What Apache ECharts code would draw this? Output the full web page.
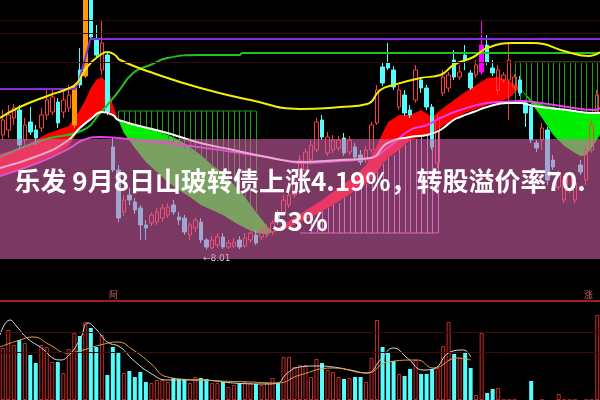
<!DOCTYPE html>
<html><head><meta charset="utf-8">
<script src="https://cdn.jsdelivr.net/npm/echarts@6/dist/echarts.min.js"></script>
<style>html,body{margin:0;padding:0;background:#000;}#c{width:600px;height:400px;}</style>
</head><body><div id="c"></div>
<script>
// [open, close, low, high]
const candles = [
[10.30,10.60,10.20,10.80],[10.40,10.70,10.24,10.90],[10.64,10.84,10.50,10.92],[10.80,10.10,10.00,10.90],
[10.20,10.50,10.10,10.64],[10.56,10.36,10.30,10.86],[10.40,10.24,10.10,10.50],[10.44,10.70,10.36,10.84],
[10.70,11.00,10.60,11.24],[10.76,11.06,10.70,11.20],[10.96,10.54,10.44,11.04],[10.76,11.00,10.64,11.16],
[10.84,11.10,10.76,11.30],[10.50,11.26,10.44,11.30],[11.60,11.30,11.24,12.04],[11.48,13.20,11.44,13.40],
[13.10,12.26,12.20,13.30],[12.20,11.90,11.84,12.50],[11.60,12.14,11.50,12.60],[11.90,10.76,10.70,11.96],
[10.06,9.60,9.56,10.26],[9.60,8.64,8.56,9.70],[8.76,9.00,8.68,9.10],[9.10,9.00,8.90,9.24],
[8.96,8.80,8.72,9.04],[8.84,8.50,8.20,8.90],[8.50,8.44,8.20,8.60],[8.54,8.70,8.48,8.76],
[8.56,8.76,8.50,8.84],[8.64,8.84,8.56,8.92],[8.70,8.86,8.64,8.94],[8.90,8.76,8.70,9.00],
[8.66,8.60,8.50,8.76],[8.64,8.36,8.30,8.70],[8.30,8.50,8.20,8.56],[8.44,8.60,8.36,8.66],
[8.56,8.20,8.14,8.64],[8.20,8.06,8.01,8.24],[8.04,8.20,8.02,8.28],[8.10,8.26,8.04,8.34],
[8.26,8.06,8.02,8.34],[8.06,8.14,8.02,8.20],[8.08,8.16,8.04,8.24],[8.20,8.06,8.02,8.28],
[8.08,8.24,8.04,8.34],[8.20,8.34,8.14,8.44],[8.30,8.14,8.10,8.40],[8.26,8.40,8.20,8.48],
[8.30,8.44,8.24,8.52],[8.36,8.54,8.30,8.60],[8.70,8.56,8.50,8.80],[8.74,9.00,8.68,9.10],
[8.90,9.10,8.84,9.20],[9.10,9.40,9.04,9.50],[9.50,9.80,9.44,9.90],[9.60,9.96,9.56,10.04],
[9.80,10.10,9.70,10.20],[10.00,10.56,9.96,10.64],[10.60,10.26,10.20,10.70],[9.94,10.26,9.88,10.36],
[10.00,10.20,9.94,10.30],[10.04,10.20,9.98,10.28],[10.24,9.94,9.88,10.34],[9.96,10.20,9.90,10.28],
[10.06,9.86,9.80,10.14],[9.90,9.76,9.70,10.00],[9.80,10.00,9.74,10.08],[10.00,10.50,9.94,10.56],
[10.54,11.20,10.50,11.30],[11.66,11.34,11.28,11.76],[11.74,11.64,11.60,12.14],[11.60,11.26,11.20,11.68],
[10.86,11.20,10.80,11.30],[11.10,10.74,10.68,11.20],[10.80,10.70,10.64,10.90],[11.00,11.60,10.94,11.70],
[11.40,11.24,11.14,11.46],[11.24,10.86,10.80,11.30],[10.86,10.06,10.00,10.92],[9.74,10.60,9.64,10.70],
[11.14,11.46,11.08,11.60],[11.24,11.50,11.16,11.56],[11.80,11.46,11.40,12.00],[11.46,11.56,11.40,11.70],
[11.90,11.80,11.60,12.10],[11.54,11.24,11.20,11.60],[11.50,11.70,11.44,11.80],[11.56,12.10,11.50,12.60],
[12.10,11.76,11.70,12.30],[11.64,11.54,11.48,11.80],[11.20,11.60,11.10,11.70],[11.40,11.50,11.34,11.56],
[11.40,11.80,10.60,12.14],[11.26,11.46,11.20,11.52],[11.40,11.14,11.08,11.48],[10.94,10.74,10.46,11.00],
[10.86,10.20,10.14,10.92],[10.14,10.04,9.96,10.20],[10.20,10.44,10.00,10.54],[10.40,9.40,9.30,10.46],
[9.80,9.66,9.60,9.90],[9.26,9.54,9.20,9.60],[9.00,9.40,8.94,9.48],[9.20,9.50,9.14,9.56],
[9.00,9.34,8.94,9.40],[9.70,9.56,9.50,9.80],[9.40,10.00,9.30,10.10],[10.00,10.50,9.94,10.60],
[10.76,11.10,10.70,11.20]
];
const volumes = [52,70,55,60,57,45,37,55,53,38,38,27,51,67,64,78,72,53,65,25,
53,48,27,29,23,28,18,17,20,20,18,22,21,21,17,23,22,21,17,17,
18,13,15,17,18,17,16,15,17,22,17,43,43,33,35,35,23,41,37,30,
28,23,21,22,23,23,18,42,80,53,47,39,26,24,31,40,26,26,31,32,
54,78,46,42,48,32,5,67,7,11,12,0,0,0,0,0,19,0,0,0,
0,6,0,0,0,0,0,0,85];
const categories = candles.map((c, i) => 'D' + (i + 1));
const specialCandles = {13: '#ff9900', 15: '#ff9900', 87: '#ff00ff'};

// indicator lines: [candle index, price]
const maYellow = [[-0.5,10.64],[3.1,10.86],[8.6,11.10],[11.7,11.22],[13.5,11.34],[15.3,11.66],[17.7,11.90],[19,11.96],[20.4,11.90],[21.3,11.80],[26.8,11.56],[35.9,11.24],[45,11.00],[54,10.82],[61.3,10.86],[66.2,10.92],[68.6,11.20],[71,11.30],[75.9,11.44],[79.5,11.50],[81.9,11.70],[85.5,11.86],[88,12.04],[92.8,12.14],[96.4,12.14],[102.6,11.96],[106.4,11.88],[108.5,11.96]];
const maGreen = [[-0.5,9.86],[7.3,10.20],[14.6,10.40],[17.7,10.74],[20.8,11.14],[23.7,11.54],[26.8,11.70],[29.9,11.84],[35.9,11.90],[43,11.90],[43.5,11.94],[108.5,11.94]];
const levelPurple = [[-0.5,11.22],[13.1,11.22],[13.8,11.36],[14.9,11.80],[15.9,12.22],[108.5,12.22]];
const lineWhite = [[-0.5,9.64],[6.8,9.90],[11.7,10.18],[14,10.44],[16,10.62],[18,10.76],[20,10.70],[21,10.60],[29.9,10.34],[35.9,10.14],[41.9,10.00],[48,9.86],[54,9.76],[61.3,9.80],[66.8,9.84],[69.9,10.14],[74,10.26],[77.1,10.30],[79.5,10.40],[81.9,10.60],[83.1,10.66],[85.5,10.76],[88,10.86],[91.7,10.94],[94,10.94],[96.4,10.88],[102.6,10.80],[107.3,10.74],[108.5,10.74]];
const lineMagenta = [[-0.5,9.48],[6.8,9.76],[12.2,10.04],[14.6,10.20],[17.7,10.26],[20.8,10.24],[29.9,10.14],[41.9,9.96],[51,9.80],[54,9.74],[61.3,9.78],[66.8,9.84],[69.9,10.04],[74,10.40],[77.1,10.50],[79.5,10.64],[83.1,10.80],[88,10.94],[90.4,10.96],[94,10.98],[97.7,10.94],[102.6,10.86],[107.3,10.80],[108.5,10.84]];

// cloud between fast and slow lines
const cloudIdx = [-0.5,2,4,6,8,10,12,14,15,16,17,18,19,20,21,22,24,26,28,30,32,34,36,38,40,42,44,46,48,49,50,52,54,56,58,60,62,64,66,68,69,70,72,74,76,78,80,82,84,86,88,90,92,93,94,96,98,100,102,104,105,106,107,108.5];
const cloudFast = [9.92,10.00,10.08,10.20,10.32,10.40,10.48,10.80,11.00,11.24,11.40,11.46,11.34,10.90,10.60,10.34,10.04,9.76,9.56,9.36,9.20,9.06,8.90,8.80,8.70,8.56,8.44,8.34,8.32,8.36,8.44,8.58,8.72,8.86,9.00,9.16,9.32,9.48,9.70,10.10,10.34,10.56,10.70,10.70,10.80,10.66,10.84,11.00,11.16,11.30,11.44,11.46,11.38,11.32,11.24,10.94,10.64,10.30,10.08,9.94,9.88,9.90,10.04,10.30];
const cloudSlow = [9.50,9.58,9.66,9.74,9.84,9.94,10.08,10.44,10.54,10.62,10.68,10.76,10.74,10.70,10.60,10.54,10.50,10.44,10.38,10.30,10.20,10.06,9.90,9.70,9.54,9.30,9.06,8.76,8.48,8.36,8.38,8.46,8.56,8.66,8.78,8.90,9.04,9.18,9.32,9.56,9.72,9.84,10.00,10.20,10.26,10.34,10.48,10.62,10.74,10.82,10.90,10.96,11.04,11.14,11.24,11.00,10.90,10.86,10.80,10.78,10.78,10.76,10.76,10.76];

// hatch zones
const hatchLeftStart = 21, hatchLeftLevel = 10.78;
const hatchLeftEnds = [10.58,10.54,10.52,10.48,10.46,10.42,10.38,10.32,10.26,10.20,10.14,10.08,10.02,9.96,9.90,9.86,9.78,9.70,9.62,9.54,9.42,9.30,9.18,9.06,8.90,8.76];
const hatchRightStart = 93, hatchRightLevel = 11.76;
const hatchRightEnds = [10.94,10.94,10.92,10.90,10.88,10.86,10.84,10.82,10.80,10.80,10.78,10.78,10.76,10.76,10.74,10.74];
const hatchPinkStart = 56, hatchPinkLevel = 8.34, hatchPinkFrom = 54;
const hatchPinkEnds = [8.66,8.72,8.78,8.84,8.90,8.94,9.04,9.08,9.18,9.28,9.32,9.44,9.56,9.72,9.84,9.90,10.00,10.10,10.20,10.22,10.26,10.30,10.34,10.38];

const refLevels = [12.60, 12.34, 11.76];
const volRefLevels = [68, 48];
const volTopLevel = 99;

// volume moving-average lines: [index, volume]
const volLineWhite = [[-0.5,65],[1.3,80],[2.6,73],[4.4,62],[6.8,53],[10.4,40],[11.7,43],[14,60],[15.5,77],[17.1,70],[19,58],[21.3,53],[23.7,40],[26.8,27],[29.9,20],[35.9,20],[41.9,17],[48,16],[49.9,17],[51.7,27],[54,33],[57.1,34],[60,33],[63.1,30],[66.2,27],[68.6,40],[71,52],[73.5,42],[76.4,30],[78.2,31],[81.3,48],[83.7,50],[85,43]];
const volLineOrange = [[-0.5,53],[3.1,60],[5.5,63],[8.6,55],[11.7,47],[14.6,50],[17.7,55],[20.8,58],[23.7,50],[26.8,37],[29.9,23],[35.9,20],[45,18],[49.9,17],[54,25],[60,32],[66.2,27],[69.9,38],[75.3,40],[78.2,32],[82.6,42],[85,40]];

const titleText = '乐发 9月8日山玻转债上涨4.19%，转股溢价率70.\n53%';

const UP = '#ff3c3c', DOWN = '#54fcfc';
const lowMin = Math.min(...candles.map(c => c[2]));
const lowIdx = candles.findIndex(c => c[2] === lowMin);

const candleData = candles.map((c, i) => {
  const col = specialCandles[i];
  if (col) return { value: c, itemStyle: { color: col, borderColor: col, color0: col, borderColor0: col } };
  return c;
});
const volData = volumes.map((v, i) => {
  const up = candles[i][1] >= candles[i][0];
  return { value: v, itemStyle: up ? { color: 'rgba(0,0,0,0)', borderColor: '#d02828', borderWidth: 1 } : { color: DOWN, borderColor: DOWN, borderWidth: 0 } };
});

function hatchSeries(start, level, ends, color) {
  return {
    type: 'custom', xAxisIndex: 0, yAxisIndex: 0, z: 2, silent: true,
    data: ends.map((e, k) => [start + k, level, e]),
    encode: { x: 0, y: [1, 2] },
    renderItem: function (params, api) {
      const p1 = api.coord([api.value(0), api.value(1)]);
      const p2 = api.coord([api.value(0), api.value(2)]);
      const x = Math.round(p1[0]) + 0.5;
      return { type: 'line', shape: { x1: x, y1: p1[1], x2: x, y2: p2[1] }, style: { stroke: color, lineWidth: 1 } };
    }
  };
}
function levelLine(from, to, level, color) {
  return { type: 'line', xAxisIndex: 1, yAxisIndex: 0, z: 2, silent: true, symbol: 'none',
    data: [[from, level], [to, level]], lineStyle: { color: color, width: 1 } };
}
function curve(data, color, width, smooth, xi, yi, z) {
  return { type: 'line', xAxisIndex: xi, yAxisIndex: yi, z: z, silent: true, symbol: 'none',
    smooth: smooth, data: data, lineStyle: { color: color, width: width } };
}

const chart = echarts.init(document.getElementById('c'), null, { renderer: 'canvas' });
chart.setOption({
  backgroundColor: '#000',
  animation: false,
  title: {
    text: titleText, left: 'center', top: 161, padding: 0, z: 120,
    textStyle: { color: '#ffffff', fontSize: 26, fontWeight: 'bold', fontFamily: '"Noto Sans CJK SC", sans-serif', lineHeight: 40 }
  },
  grid: [
    { left: 0, right: 0, top: 0, height: 260 },
    { left: 0, right: 0, top: 301, height: 99 }
  ],
  xAxis: [
    { type: 'category', gridIndex: 0, data: categories, boundaryGap: true, show: false },
    { type: 'value', gridIndex: 0, min: -0.5, max: 108.5, show: false },
    { type: 'category', gridIndex: 1, data: categories, boundaryGap: true, show: false },
    { type: 'value', gridIndex: 1, min: -0.5, max: 108.5, show: false }
  ],
  yAxis: [
    { type: 'value', gridIndex: 0, min: 7.8, max: 13, show: false, splitLine: { show: false } },
    { type: 'value', gridIndex: 1, min: 0, max: volTopLevel, show: false, splitLine: { show: false } }
  ],
  graphic: [
    { type: 'rect', z: 100, silent: true, shape: { x: 0, y: 139, width: 600, height: 120 }, style: { fill: 'rgba(218,100,175,0.56)' } },
    { type: 'text', z: 50, left: 109, top: 290, style: { text: '阿', fill: '#c86464', font: '9px "Noto Sans CJK SC"' } },
    { type: 'text', z: 50, left: 584, top: 290, style: { text: '涨', fill: '#c86464', font: '9px "Noto Sans CJK SC"' } }
  ],
  series: [
    {
      type: 'custom', xAxisIndex: 1, yAxisIndex: 0, z: 1, silent: true, data: [0],
      renderItem: function (params, api) {
        const children = [];
        const n = cloudIdx.length;
        const sign = k => (cloudFast[k] + cloudFast[k + 1]) - (cloudSlow[k] + cloudSlow[k + 1]) > 0;
        let start = 0;
        for (let k = 0; k < n - 1; k++) {
          if (k === n - 2 || sign(k + 1) !== sign(k)) {
            const end = k + 1;
            const pts = [];
            for (let j = start; j <= end; j++) pts.push(api.coord([cloudIdx[j], cloudFast[j]]));
            for (let j = end; j >= start; j--) pts.push(api.coord([cloudIdx[j], cloudSlow[j]]));
            children.push({ type: 'polygon', shape: { points: pts }, style: { fill: sign(k) ? '#ff0000' : '#00ee00' } });
            start = end;
          }
        }
        return { type: 'group', children: children };
      },
      markLine: { silent: true, symbol: 'none', label: { show: false },
        lineStyle: { color: '#340a0a', type: 'solid', width: 1 },
        data: refLevels.map(v => ({ yAxis: v })) }
    },
    hatchSeries(hatchLeftStart, hatchLeftLevel, hatchLeftEnds, '#1e9e1e'),
    hatchSeries(hatchRightStart, hatchRightLevel, hatchRightEnds, '#1e9e1e'),
    hatchSeries(hatchPinkStart, hatchPinkLevel, hatchPinkEnds, '#d37bd1'),
    levelLine(hatchLeftStart, hatchLeftStart + hatchLeftEnds.length - 1, hatchLeftLevel, '#1e9e1e'),
    levelLine(hatchRightStart, 108.5, hatchRightLevel, '#1e9e1e'),
    levelLine(hatchPinkFrom, hatchPinkStart + hatchPinkEnds.length - 1, hatchPinkLevel, '#d37bd1'),
    {
      type: 'candlestick', xAxisIndex: 0, yAxisIndex: 0, z: 3, barWidth: 4, data: candleData,
      itemStyle: { color: 'rgba(0,0,0,0)', color0: DOWN, borderColor: UP, borderColor0: DOWN, borderWidth: 1 },
      markPoint: {
        symbol: 'circle', symbolSize: 1, itemStyle: { color: 'rgba(0,0,0,0)' },
        label: { show: true, formatter: '←' + lowMin.toFixed(2), position: [-3, 5], color: '#e0e0e0', fontSize: 9, fontFamily: 'DejaVu Sans' },
        data: [{ coord: [lowIdx, lowMin] }]
      }
    },
    curve(levelPurple, '#8a2be2', 2, false, 1, 0, 4),
    curve(maGreen, '#22c022', 2, true, 1, 0, 4),
    curve(maYellow, '#f4f000', 2, true, 1, 0, 4),
    curve(lineMagenta, '#ee3cee', 2, true, 1, 0, 4),
    curve(lineWhite, '#ffffff', 2, true, 1, 0, 4),
    {
      type: 'bar', xAxisIndex: 2, yAxisIndex: 1, barWidth: 4, data: volData, z: 3,
      markLine: { silent: true, symbol: 'none', label: { show: false },
        lineStyle: { color: '#3c0c0c', type: 'solid', width: 1 },
        data: volRefLevels.map(v => ({ yAxis: v })).concat([{ yAxis: volTopLevel, lineStyle: { color: '#a81c1c', width: 2, type: 'solid' } }]) }
    },
    curve(volLineWhite, '#d8d8d8', 1, true, 3, 1, 4),
    curve(volLineOrange, '#e0a040', 1, true, 3, 1, 4)
  ]
});
</script>
</body></html>
